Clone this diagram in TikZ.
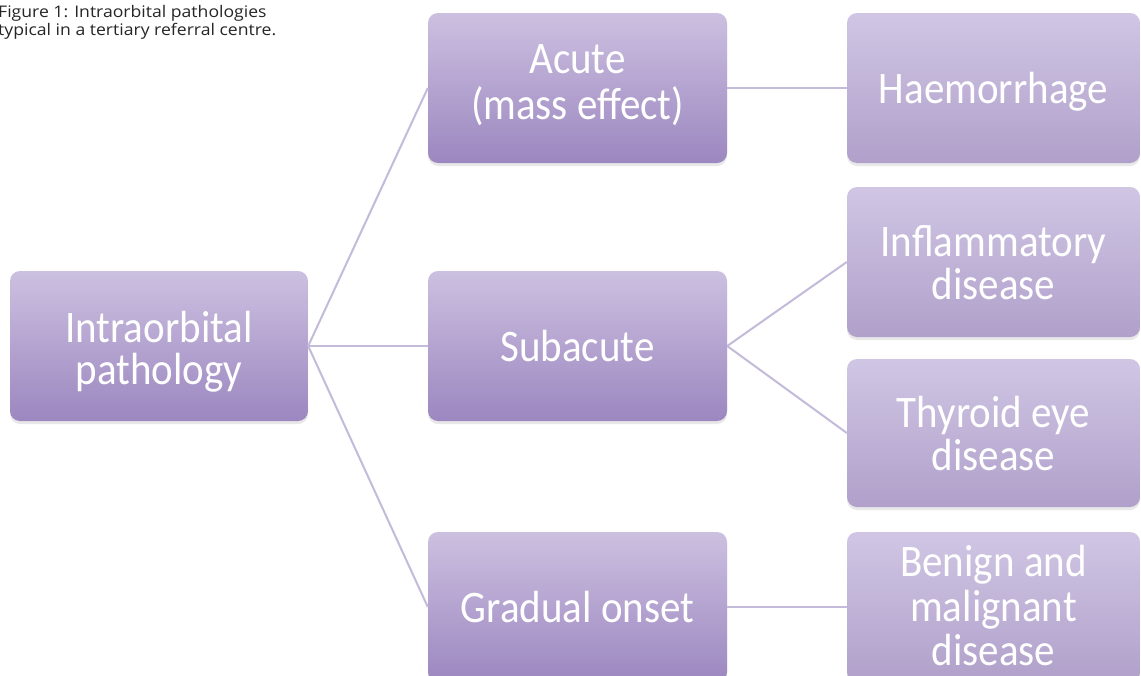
\documentclass[tikz,border=0pt]{standalone}
\usepackage{fontspec}
\usepackage{graphicx}
\setmainfont{Carlito}
\newfontfamily\capfont{Open Sans}
\usetikzlibrary{shadows}
\definecolor{connc}{RGB}{196,186,218}
\definecolor{midtop}{RGB}{204,192,224}
\definecolor{midbot}{RGB}{156,135,192}
\definecolor{leaftop}{RGB}{208,198,228}
\definecolor{leafbot}{RGB}{176,160,202}
\newlength\btraise
\newcommand{\bt}[2][38]{\pgfmathsetlength{\btraise}{0.22*#1-14.52}%
  \raisebox{\btraise}[\height][\depth]{\scalebox{1}[1.1]{\fontsize{41}{#1}\selectfont
  \begin{tabular}{@{}c@{}}#2\end{tabular}}}}
\tikzset{
  box/.style={rounded corners=10pt, inner sep=0pt, align=center, text=white,
    font=\fontsize{41}{38}\selectfont,
    drop shadow={opacity=0.18, shadow xshift=0pt, shadow yshift=-3pt}},
  midbox/.style={box, top color=midtop, bottom color=midbot,
    minimum width=299pt, minimum height=150pt},
  leafbox/.style={box, top color=leaftop, bottom color=leafbot,
    minimum width=293pt, minimum height=150pt},
  conn/.style={draw=connc, line width=2pt}
}
\begin{document}
\begin{tikzpicture}[x=1pt,y=-1pt]
\useasboundingbox (0,0) rectangle (1141,675);
\fill[white] (0,0) rectangle (1141,675);
\node[anchor=base west, inner sep=0pt, text=black!85,
      font=\capfont\fontsize{16}{18}\selectfont] (cap) at (-2,17)
  {\scalebox{1.1}[1]{\begin{tabular}[t]{@{}l@{}}Figure 1: Intraorbital pathologies\\typical in a tertiary referral centre.\end{tabular}}};
\node[midbox, minimum width=298pt] (root) at (159,346) {\bt[32]{Intraorbital\\pathology}};
\node[midbox] (acute) at (577.5,88) {\raisebox{6pt}[\height][\depth]{\bt[41]{Acute\\(mass effect)}}};
\node[midbox] (sub) at (577.5,346) {\bt{Subacute}};
\node[midbox] (grad) at (577.5,607) {\bt{Gradual onset}};
\node[leafbox] (haem) at (993.5,88) {\bt{Haemorrhage}};
\node[leafbox] (infl) at (993.5,262) {\bt[35.5]{Inflammatory\\disease}};
\node[leafbox, minimum height=148pt] (thyr) at (993.5,433) {\bt[36.5]{Thyroid eye\\disease}};
\node[leafbox] (ben) at (993.5,607) {\raisebox{1pt}[\height][\depth]{\bt[39]{Benign and\\malignant\\disease}}};
\draw[conn] (root.east) -- (acute.west);
\draw[conn] (root.east) -- (sub.west);
\draw[conn] (root.east) -- (grad.west);
\draw[conn] (acute.east) -- (haem.west);
\draw[conn] (sub.east) -- (infl.west);
\draw[conn] (sub.east) -- (thyr.west);
\draw[conn] (grad.east) -- (ben.west);
\end{tikzpicture}
\end{document}
